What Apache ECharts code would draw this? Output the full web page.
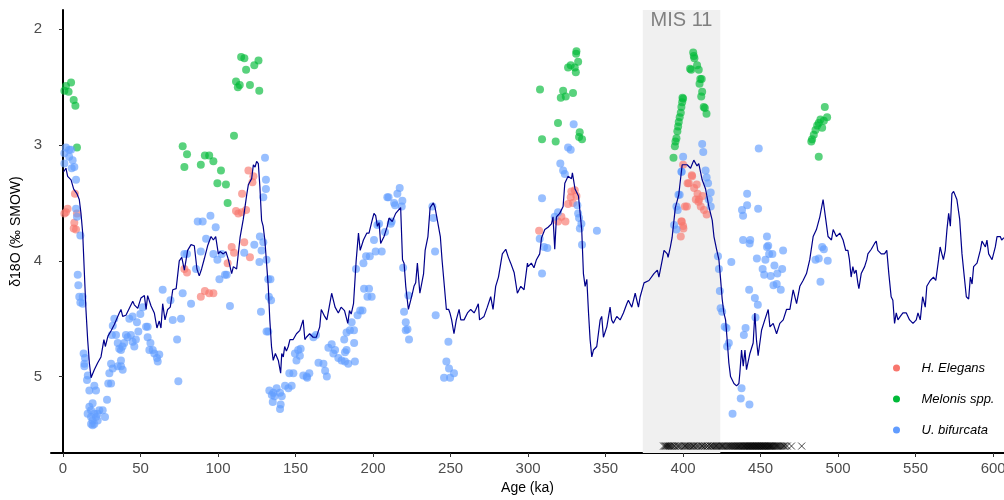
<!DOCTYPE html>
<html>
<head>
<meta charset="utf-8">
<script src="https://cdn.jsdelivr.net/npm/echarts@6/dist/echarts.min.js"></script>
<style>
html,body{margin:0;padding:0;background:#fff;}
#chart{width:1004px;height:500px;}
</style>
</head>
<body>
<div id="chart"></div>
<script>
// ---------- DATA ----------
const xTicks = [0, 50, 100, 150, 200, 250, 300, 350, 400, 450, 500, 550, 600];
const yTicks = [2, 3, 4, 5];
const misBand = [374, 424];
const misLabel = 'MIS 11';
const seriesNames = ['H. Elegans', 'Melonis spp.', 'U. bifurcata'];

// Benthic stack (age ka, d18O)
const stack = [
[0.4,3.23],[1.9,3.20],[3.0,3.27],[4.0,3.26],[5.2,3.30],[6.9,3.38],[9.0,3.42],[10.5,3.47],[11.6,3.59],[12.7,3.76],
[13.8,4.11],[14.8,4.42],[15.9,4.68],[17.0,4.88],[18.1,5.01],[20.2,4.94],[22.4,4.88],[24.5,4.83],[26.4,4.68],[27.3,4.74],
[29.0,4.65],[31.2,4.60],[33.1,4.55],[36.3,4.45],[37.4,4.42],[38.5,4.48],[40.6,4.47],[42.8,4.41],[45.0,4.35],[46.0,4.38],
[48.2,4.41],[50.3,4.32],[52.5,4.30],[53.6,4.42],[54.6,4.30],[56.8,4.39],[58.9,4.45],[60.6,4.58],[62.1,4.52],[63.2,4.58],
[64.3,4.37],[65.8,4.51],[67.5,4.42],[69.2,4.40],[70.8,4.25],[73.0,4.24],[75.0,4.00],[76.6,3.97],[78.3,4.08],[80.4,3.91],
[82.6,3.86],[84.7,3.87],[86.4,4.07],[87.9,4.13],[89.4,4.07],[91.2,3.98],[93.3,3.87],[95.5,3.79],[97.0,3.82],[98.5,3.79],
[100.2,3.94],[101.3,3.92],[103.4,3.94],[105.1,3.92],[106.7,3.99],[108.8,4.11],[109.9,4.05],[112.0,4.07],[114.2,3.80],[116.3,3.64],
[118.5,3.43],[119.6,3.34],[121.7,3.29],[122.8,3.17],[123.9,3.19],[124.9,3.14],[126.0,3.16],[127.0,3.36],[128.1,3.65],[129.1,3.70],
[130.2,3.82],[131.3,4.02],[132.4,4.22],[133.4,4.51],[134.5,4.74],[135.6,4.86],[137.0,4.80],[138.9,4.86],[140.4,4.97],[141.1,4.80],
[142.1,4.83],[143.0,4.74],[144.1,4.78],[145.3,4.74],[146.4,4.68],[148.5,4.68],[150.6,4.63],[152.8,4.60],[154.9,4.51],[156.0,4.68],
[157.0,4.66],[159.1,4.63],[161.3,4.66],[163.4,4.66],[165.6,4.57],[166.6,4.42],[168.8,4.48],[170.2,4.51],[171.7,4.40],[173.3,4.28],
[175.5,4.40],[177.6,4.45],[179.4,4.40],[181.6,4.43],[183.7,4.54],[184.8,4.43],[185.9,4.46],[187.4,4.37],[189.1,4.00],[190.6,3.76],
[191.7,3.91],[193.8,3.82],[196.0,3.76],[197.4,3.76],[198.5,3.70],[199.6,3.64],[200.6,3.59],[201.7,3.61],[202.8,3.70],[203.9,3.67],
[204.9,3.85],[207.1,3.79],[209.2,3.70],[210.3,3.63],[212.4,3.66],[214.6,3.59],[217.8,3.54],[219.0,3.99],[220.0,4.02],[221.1,4.22],
[222.8,4.42],[224.3,4.34],[225.4,4.28],[226.4,4.22],[227.5,4.19],[228.6,4.02],[230.2,4.28],[232.6,4.11],[233.6,3.91],[235.4,3.79],
[236.8,3.54],[237.9,3.53],[238.9,3.50],[240.0,3.54],[243.4,3.79],[244.5,3.99],[246.0,4.22],[247.3,4.42],[248.8,4.42],[249.6,4.45],
[250.7,4.51],[252.2,4.63],[253.7,4.51],[255.5,4.42],[256.6,4.51],[258.7,4.51],[260.9,4.45],[263.0,4.42],[265.2,4.45],[266.3,4.42],
[267.9,4.37],[268.7,4.51],[271.6,4.48],[273.7,4.40],[275.9,4.31],[277.4,4.42],[279.1,4.22],[280.9,4.14],[282.4,4.02],[283.4,3.94],
[285.6,3.90],[287.3,3.97],[288.8,4.02],[291.0,4.10],[293.1,4.28],[295.3,4.22],[297.4,4.25],[299.6,4.02],[300.0,4.05],[302.1,4.02],
[303.8,4.06],[305.4,3.99],[307.5,3.94],[308.7,3.80],[310.8,3.73],[312.9,3.71],[315.1,3.68],[316.1,3.62],[317.2,3.90],[318.3,3.62],
[320.4,3.59],[322.6,3.53],[323.7,3.33],[324.7,3.33],[325.8,3.27],[328.0,3.29],[328.6,3.24],[330.3,3.38],[332.5,3.44],[334.6,3.73],
[335.7,4.11],[336.8,4.22],[337.9,4.16],[339.0,4.45],[340.0,4.68],[341.1,4.83],[342.2,4.77],[344.3,4.74],[346.5,4.51],[347.5,4.48],
[348.6,4.66],[350.8,4.57],[352.9,4.40],[353.9,4.51],[355.0,4.54],[357.2,4.48],[359.4,4.51],[361.5,4.45],[363.7,4.37],[364.7,4.34],
[366.9,4.40],[369.1,4.28],[371.2,4.40],[372.3,4.31],[374.8,4.19],[378.0,4.17],[381.2,4.11],[383.4,4.08],[384.4,4.14],[386.6,3.99],
[387.7,3.91],[389.8,3.94],[390.3,3.97],[391.8,3.88],[392.9,3.80],[395.0,3.54],[397.2,3.43],[399.4,3.17],[402.6,3.17],[404.8,3.20],
[406.9,3.13],[409.0,3.18],[410.1,3.16],[412.3,3.30],[414.5,3.38],[416.6,3.53],[418.8,3.65],[419.9,3.79],[421.6,3.90],[423.1,3.99],
[424.2,4.16],[425.2,4.33],[426.3,4.45],[427.4,4.51],[428.4,4.68],[429.5,4.88],[430.6,5.00],[432.8,5.06],[434.5,5.08],[436.0,5.06],
[436.6,4.97],[437.7,4.77],[438.8,4.91],[439.9,4.77],[440.9,4.94],[443.1,4.80],[445.2,4.71],[446.3,4.45],[447.3,4.68],[448.4,4.82],
[450.6,4.60],[452.7,4.51],[454.9,4.42],[456.0,4.57],[458.1,4.54],[460.3,4.63],[462.4,4.54],[464.6,4.51],[466.7,4.42],[468.9,4.42],
[471.0,4.25],[473.2,4.37],[475.3,4.22],[477.4,4.17],[479.6,4.11],[481.7,3.99],[483.9,3.79],[486.0,3.73],[488.2,3.62],[490.3,3.47],
[492.0,3.64],[493.5,3.79],[495.7,3.82],[496.8,3.73],[498.9,3.79],[501.1,3.76],[503.2,3.82],[504.9,3.91],[506.3,3.91],[507.3,3.99],
[508.4,4.14],[509.5,4.05],[510.5,4.11],[511.6,4.08],[512.7,4.19],[513.4,4.24],[514.9,4.11],[517.1,4.05],[518.5,3.99],[519.2,3.94],
[521.4,3.90],[523.5,3.85],[524.6,3.83],[525.6,3.91],[527.8,3.94],[529.9,3.94],[531.4,3.91],[532.7,4.11],[534.2,4.31],[535.3,4.34],
[536.4,4.54],[537.5,4.45],[538.6,4.51],[540.1,4.48],[541.8,4.45],[544.0,4.45],[546.1,4.51],[548.3,4.54],[550.4,4.51],[551.5,4.45],
[553.0,4.51],[554.5,4.31],[556.2,4.40],[557.2,4.22],[559.4,4.17],[561.5,4.14],[563.0,4.17],[564.8,3.99],[565.8,3.88],[566.9,3.94],
[567.9,3.99],[569.1,3.91],[570.2,3.73],[571.3,3.59],[572.4,3.70],[573.4,3.42],[574.5,3.40],[576.6,3.47],[578.4,3.64],[579.9,3.94],
[581.4,4.14],[582.7,4.31],[584.2,4.33],[585.3,4.14],[586.4,4.20],[587.4,4.05],[589.6,4.02],[591.7,3.91],[592.8,3.83],[595.0,3.88],
[596.0,3.82],[597.1,3.94],[599.3,3.99],[601.4,3.88],[602.5,3.79],[604.6,3.79],[605.5,3.82],[607.0,3.80]
];

// H. Elegans
const elegans = [
[0.9,3.59],[3.0,3.55],[1.9,3.58],[9.0,3.59],[7.7,3.42],[7.3,3.67],[6.9,3.72],[8.4,3.73],[78.3,4.07],[80.0,4.10],
[88.9,4.31],[91.5,4.26],[94.3,4.28],[97.0,4.28],[119.6,3.22],[122.8,3.27],[122.2,3.32],[115.5,3.42],[111.6,3.57],[113.1,3.59],
[115.3,3.58],[118.1,3.56],[108.8,3.88],[110.3,3.93],[116.9,3.84],[120.6,3.97],[106.2,4.02],[307.1,3.74],[319.3,3.66],[321.5,3.62],
[324.1,3.66],[325.8,3.51],[327.9,3.40],[330.1,3.39],[331.2,3.44],[329.0,3.50],[327.5,3.45],[400.0,3.17],[398.9,3.66],[400.0,3.70],
[398.5,3.79],[401.2,3.53],[402.9,3.33],[405.8,3.27],[403.7,3.33],[407.1,3.37],[409.3,3.42],[410.3,3.47],[412.5,3.44],[413.5,3.56],
[415.2,3.60],[411.4,3.53],[408.2,3.47],[402.4,3.53],[405.6,3.26],[408.8,3.34],[409.9,3.49],[399.1,3.66],[400.2,3.72]
];

// Melonis spp.
const melonis = [
[1.9,2.49],[5.2,2.46],[0.9,2.53],[3.6,2.54],[6.9,2.61],[8.0,2.66],[9.0,3.02],[77.2,3.01],[80.0,3.08],[78.3,3.19],
[88.9,3.17],[91.5,3.09],[94.3,3.09],[97.0,3.14],[101.9,3.22],[99.6,3.33],[105.1,3.34],[106.2,3.50],[110.3,2.92],[114.9,2.24],
[117.0,2.25],[118.1,2.35],[123.4,2.31],[126.1,2.27],[111.6,2.45],[112.8,2.50],[114.0,2.48],[120.6,2.48],[126.6,2.53],
[331.2,2.19],[331.0,2.21],[332.3,2.28],[325.8,2.33],[327.5,2.31],[330.1,2.33],[330.8,2.37],[307.7,2.52],[322.6,2.53],[321.1,2.59],
[324.3,2.58],[329.0,2.55],[319.3,2.81],[309.0,2.95],[317.8,2.97],[333.3,2.89],[332.9,2.93],[334.8,2.95],
[393.8,3.11],[394.7,3.01],[395.1,2.97],[395.7,2.94],[396.3,2.88],[396.8,2.84],[397.2,2.80],[397.8,2.76],[398.5,2.72],[398.9,2.67],
[399.4,2.63],[399.6,2.59],[400.0,2.60],[404.5,2.34],[406.5,2.20],[407.3,2.25],[406.9,2.23],[409.0,2.31],[405.2,2.35],[410.1,2.35],
[411.1,2.43],[412.0,2.43],[410.6,2.47],[412.3,2.54],[411.7,2.58],[413.3,2.67],[414.0,2.68],[415.1,2.73],
[491.4,2.67],[488.6,2.78],[490.8,2.79],[492.9,2.76],[487.5,2.81],[485.4,2.87],[484.3,2.91],[483.2,2.95],[482.7,2.97],[487.5,3.10],
[489.7,2.85],[486.5,2.83]
];

// U. bifurcata
const bifurcata = [
[1.9,3.02],[4.0,3.04],[0.9,3.07],[5.2,3.04],[0.9,3.16],[4.0,3.10],[6.2,3.13],[7.3,3.19],[5.6,3.20],[8.4,3.30],
[8.4,3.55],[9.0,3.62],[11.2,3.78],[9.5,4.12],[9.9,4.21],[10.5,4.31],[12.7,4.31],[11.2,4.36],[12.7,4.37],[13.3,4.80],
[14.2,4.84],[13.8,4.89],[13.8,4.91],[16.0,4.99],[15.5,5.03],[17.0,5.12],[21.3,5.12],[15.9,5.32],[17.0,5.26],[18.1,5.29],
[19.1,5.23],[18.1,5.35],[19.1,5.38],[20.2,5.41],[18.1,5.41],[21.3,5.35],[22.4,5.32],[23.4,5.29],[25.6,5.29],[27.1,5.35],
[20.2,5.32],[19.1,5.42],[22.4,5.38],[28.4,5.20],[20.2,5.08],[29.9,4.97],[29.2,5.06],[31.0,5.06],[32.1,4.93],[31.0,4.89],
[35.3,4.91],[37.4,4.91],[38.5,4.94],[37.4,4.86],[34.2,4.64],[31.5,4.64],[32.1,4.56],[33.1,4.50],[35.3,4.71],[36.3,4.76],
[37.4,4.77],[38.4,4.74],[39.5,4.71],[40.6,4.64],[41.7,4.66],[43.8,4.64],[44.9,4.70],[46.0,4.74],[47.0,4.68],[48.6,4.61],
[44.9,4.48],[42.8,4.50],[47.7,4.53],[49.9,4.46],[51.4,4.40],[53.6,4.57],[54.6,4.57],[54.6,4.66],[56.4,4.71],[55.7,4.77],
[57.9,4.77],[58.9,4.80],[60.6,4.84],[62.1,4.81],[61.1,4.87],[64.3,4.25],[69.3,4.34],[70.8,4.51],[73.6,4.68],[74.4,5.04],
[77.2,4.28],[82.6,4.37],[76.1,4.50],[78.3,3.94],[80.0,3.94],[85.8,4.07],[88.9,3.92],[86.9,3.66],[90.1,3.66],[92.3,3.81],
[95.1,3.61],[98.5,3.71],[97.0,3.94],[99.6,3.99],[102.4,3.94],[104.5,4.12],[100.9,4.16],[105.6,4.12],[107.7,4.39],[116.9,3.93],
[123.4,3.86],[126.7,4.01],[128.1,3.91],[127.0,3.79],[129.2,3.84],[131.3,3.99],[130.3,3.11],[130.9,3.30],[130.9,3.38],[129.2,3.45],
[132.4,4.16],[133.8,4.16],[132.8,4.31],[134.2,4.34],[127.7,4.44],[132.4,4.61],[131.3,4.61],[133.1,5.12],[134.7,5.16],[135.7,5.14],
[137.8,5.10],[135.3,5.22],[136.4,5.17],[140.0,5.14],[141.1,5.17],[143.2,5.08],[145.4,5.10],[147.5,5.08],[140.4,5.24],[140.0,5.28],
[146.0,4.97],[148.6,4.97],[150.6,4.86],[149.6,4.80],[151.7,4.77],[153.3,4.76],[152.8,4.82],[155.0,4.99],[157.2,5.00],[158.9,4.97],
[157.5,5.01],[164.8,4.88],[168.0,4.89],[169.1,4.95],[170.2,5.00],[161.5,4.66],[163.2,4.64],[171.2,4.75],[173.3,4.72],[174.4,4.80],
[175.5,4.77],[177.6,4.84],[179.7,4.86],[181.9,4.87],[184.0,4.89],[188.3,4.87],[181.9,4.79],[182.9,4.77],[181.4,4.68],[187.8,4.71],
[182.9,4.62],[185.1,4.60],[187.7,4.60],[186.2,4.53],[190.0,4.47],[191.7,4.43],[193.2,4.43],[189.0,4.07],[194.2,4.24],[193.8,4.02],
[195.5,3.96],[196.4,4.31],[197.9,3.96],[197.4,4.24],[199.1,4.31],[200.6,3.82],[201.7,3.92],[202.8,3.69],[203.9,3.68],[205.6,3.92],
[207.7,3.75],[209.2,3.45],[210.0,3.45],[211.4,3.68],[212.0,3.66],[213.6,3.50],[214.2,3.52],[215.7,3.42],[217.2,3.37],[218.9,3.48],
[218.5,3.53],[219.4,4.06],[222.8,4.30],[220.0,4.44],[221.1,4.53],[222.2,4.59],[221.1,4.60],[223.2,4.68],[238.3,3.53],[238.9,3.63],
[240.0,3.92],[240.4,4.47],[248.6,4.70],[247.3,4.87],[249.0,4.93],[252.2,4.97],[245.8,5.01],[249.7,5.01],
[309.0,4.11],[307.5,3.81],[309.0,3.46],[310.3,3.88],[312.4,3.89],[317.2,3.62],[319.3,3.58],[320.8,3.16],[322.6,3.22],[323.7,3.25],
[325.8,3.02],[327.5,3.04],[329.4,2.82],[331.8,3.52],[332.3,3.59],[332.9,3.63],[334.4,3.68],[333.4,3.72],[334.8,3.86],[344.4,3.74],
[395.7,3.53],[397.8,3.43],[398.9,3.23],[400.0,3.10],[396.5,3.56],[394.2,3.69],[395.7,3.73],[399.1,3.23],[397.0,3.43],
[412.3,2.99],[413.0,3.06],[414.5,3.22],[415.2,3.28],[416.1,3.33],[417.8,3.41],[416.6,3.47],[417.8,3.53],[422.5,3.96],[423.1,4.07],
[423.7,4.26],[424.2,4.41],[425.2,4.44],[426.8,4.57],[428.0,4.58],[429.5,4.71],[428.4,4.74],[431.1,4.01],[437.7,5.10],[437.2,5.19],
[442.8,5.24],[431.9,5.32],[439.2,4.64],[440.3,4.58],[446.3,4.32],[448.2,4.38],[446.7,4.49],[442.6,4.25],[438.0,3.56],[438.7,3.61],
[441.3,3.42],[441.3,3.52],[448.4,3.55],[448.8,3.03],[438.7,3.82],[443.3,3.82],[442.9,3.85],[447.6,3.98],[451.3,4.07],[452.3,4.12],
[454.1,3.79],[454.9,3.87],[454.1,3.88],[455.5,3.94],[457.6,3.94],[453.1,3.99],[458.9,4.04],[463.9,4.07],[456.5,4.13],[460.8,4.11],
[458.3,4.21],[460.4,4.20],[463.0,4.25],[464.5,3.91],[485.4,3.99],[487.5,3.98],[490.8,3.90],[489.7,3.88],[493.3,4.00],[488.6,4.18]
];

// sample ages shown as crosses along the bottom
const sampleAges = [
387.4,388.2,388.9,389.5,390.3,391.0,391.6,392.5,393.1,394.2,395.0,396.3,397.0,397.8,399.1,400.4,401.2,402.0,402.9,403.5,
404.6,405.4,406.3,407.0,408.1,409.2,410.0,411.3,412.2,413.0,414.1,415.2,416.0,417.3,418.1,418.9,419.6,420.4,421.2,422.0,
422.8,423.5,424.3,425.1,425.8,426.6,427.4,428.1,428.9,429.7,430.4,431.0,431.7,432.3,433.0,433.6,434.2,434.9,435.5,436.0,
436.6,437.2,437.7,438.3,438.8,439.3,439.8,440.3,440.8,441.3,441.7,442.2,442.7,443.1,443.6,444.0,444.5,445.0,445.4,445.9,
446.3,446.8,447.2,447.7,448.1,448.6,449.0,449.5,450.0,450.4,450.9,451.3,451.8,452.2,452.7,453.1,453.6,454.0,454.5,455.0,
455.4,455.9,456.3,456.8,457.3,457.9,458.5,459.2,459.9,460.6,461.3,462.0,462.8,463.5,464.3,465.1,466.0,467.2,469.9,476.5
];
const sampleLevel = 5.6;

// ---------- CHART ----------
const chart = echarts.init(document.getElementById('chart'), null, {renderer: 'canvas'});
const font = 'Liberation Sans, Arial, sans-serif';
const colors = {'H. Elegans': '#F8766D', 'Melonis spp.': '#00BA38', 'U. bifurcata': '#619CFF'};
const speciesData = {'H. Elegans': elegans, 'Melonis spp.': melonis, 'U. bifurcata': bifurcata};

const series = [
  {
    type: 'line', data: [], silent: true, z: 0,
    markArea: {
      silent: true,
      itemStyle: {color: '#F0F0F0'},
      label: {show: true, position: 'insideTop', distance: 0, color: '#808080', fontSize: 20, fontFamily: font, formatter: misLabel},
      data: [[{xAxis: misBand[0]}, {xAxis: misBand[1]}]]
    }
  }
];
seriesNames.forEach(function (n) {
  series.push({
    name: n, type: 'scatter', data: speciesData[n], symbol: 'circle', symbolSize: 8, z: 3,
    itemStyle: {color: colors[n], opacity: 0.65}
  });
});
series.push({
  type: 'line', data: stack, showSymbol: false, z: 5,
  lineStyle: {color: '#00008B', width: 1.2}, silent: true
});
series.push({
  type: 'scatter', data: sampleAges.map(function (a) { return [a, sampleLevel]; }), z: 6,
  symbol: 'path://M0,0L10,10M10,0L0,10', symbolSize: 7, silent: true,
  itemStyle: {color: 'none', borderColor: '#000', borderWidth: 0.9}
});

chart.setOption({
  animation: false,
  backgroundColor: '#fff',
  grid: {left: 51, right: 0, top: 10, height: 443, outerBoundsMode: 'none'},
  legend: {
    data: seriesNames, orient: 'vertical', left: 888, top: 356,
    itemWidth: 40, itemHeight: 7, itemGap: 17, icon: 'circle',
    itemStyle: {opacity: 1},
    textStyle: {fontFamily: font, fontSize: 13, fontStyle: 'italic', color: '#000', lineHeight: 14}
  },
  xAxis: {
    type: 'value', min: -7.74, max: 607,
    name: 'Age (ka)', nameLocation: 'middle', nameGap: 28,
    nameTextStyle: {fontFamily: font, fontSize: 14, color: '#000'},
    axisLine: {show: true, lineStyle: {color: '#000', width: 2}},
    axisTick: {show: true, length: 4, lineStyle: {color: '#333', width: 1}, customValues: xTicks},
    axisLabel: {fontFamily: font, fontSize: 15, color: '#4D4D4D', margin: 8, customValues: xTicks},
    splitLine: {show: false}
  },
  yAxis: {
    type: 'value', inverse: true, min: 1.833, max: 5.66,
    name: 'δ18O (‰ SMOW)', nameLocation: 'middle', nameGap: 25,
    nameTextStyle: {fontFamily: font, fontSize: 14, color: '#000'},
    axisLine: {show: true, lineStyle: {color: '#000', width: 2}},
    axisTick: {show: true, length: 4, lineStyle: {color: '#333', width: 1}, customValues: yTicks},
    axisLabel: {fontFamily: font, fontSize: 15, color: '#4D4D4D', margin: 9, customValues: yTicks},
    splitLine: {show: false}
  },
  series: series
});
</script>
</body>
</html>
